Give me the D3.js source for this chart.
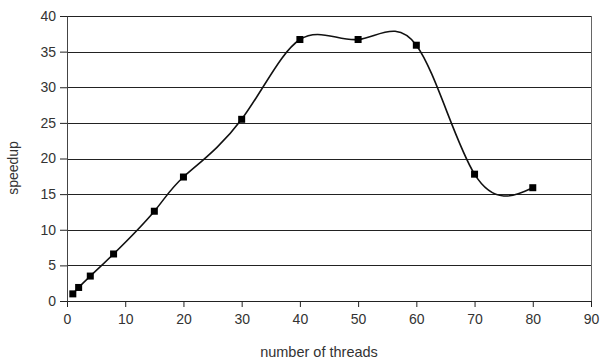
<!DOCTYPE html>
<html>
<head>
<meta charset="utf-8">
<script src="https://cdn.jsdelivr.net/npm/d3@7"></script>
<style>
  body { margin: 0; background: #fff; }
  text { font-family: "Liberation Sans", Arial, sans-serif; fill: #333; }
</style>
</head>
<body>
<div id="chart-container"></div>
<script>
// data
const threads = [1, 2, 4, 8, 15, 20, 30, 40, 50, 60, 70, 80]
const speedup = [1.0, 1.9, 3.5, 6.6, 12.6, 17.4, 25.5, 36.7, 36.7, 35.9, 17.8, 15.9]
const xTicks = [0, 10, 20, 30, 40, 50, 60, 70, 80, 90]
const yTicks = [0, 5, 10, 15, 20, 25, 30, 35, 40]

const margin = { top: 16, right: 9, bottom: 62, left: 67 }
const width = 600 - margin.left - margin.right
const height = 363 - margin.top - margin.bottom

const svg = d3.select("#chart-container")
  .append("svg")
  .attr("width", 600)
  .attr("height", 363)
  .append("g")
  .attr("transform", `translate(${margin.left},${margin.top})`)

const x = d3.scaleLinear().domain([0, 90]).range([0, width])
const y = d3.scaleLinear().domain([0, 40]).range([height, 0])

// horizontal gridlines
svg.append("g")
  .selectAll("line")
  .data(yTicks.filter(d => d > 0))
  .enter().append("line")
  .attr("x1", 0)
  .attr("x2", width)
  .attr("y1", d => Math.round(y(d)) + 0.5)
  .attr("y2", d => Math.round(y(d)) + 0.5)
  .attr("stroke", "#222")

// right border
svg.append("line")
  .attr("x1", width + 0.5).attr("x2", width + 0.5)
  .attr("y1", Math.round(y(40))).attr("y2", height)
  .attr("stroke", "#666")

// axes
const xAxis = svg.append("g")
  .attr("transform", `translate(0,${Math.round(height)})`)
  .call(d3.axisBottom(x).tickValues(xTicks).tickSize(6).tickSizeOuter(0))
xAxis.select(".domain").attr("stroke", "#222")
xAxis.selectAll(".tick line").attr("stroke", "#222")
xAxis.selectAll("text").style("font-size", "14px").attr("y", 9).attr("dy", "1em").attr("fill", "#333")

const yAxis = svg.append("g")
  .call(d3.axisLeft(y).tickValues(yTicks).tickSize(7).tickSizeOuter(0))
yAxis.select(".domain").attr("stroke", "#444")
yAxis.selectAll(".tick line").attr("stroke", "#222")
yAxis.selectAll("text").style("font-size", "14px").attr("x", -11).attr("fill", "#333")

// smoothed line (cubic spline)
const pts = threads.map((t, i) => [t, speedup[i]])
svg.append("path")
  .datum(pts)
  .attr("fill", "none")
  .attr("stroke", "#111")
  .attr("stroke-width", 1.6)
  .attr("d", d3.line().x(d => x(d[0])).y(d => y(d[1])).curve(d3.curveNatural))

// square markers
svg.selectAll(".pt")
  .data(pts)
  .enter().append("rect")
  .attr("class", "pt")
  .attr("x", d => x(d[0]) - 3.5)
  .attr("y", d => y(d[1]) - 3.5)
  .attr("width", 7)
  .attr("height", 7)
  .attr("fill", "#000")

// axis labels
svg.append("text")
  .attr("transform", "rotate(-90)")
  .attr("x", -(168 - margin.top))
  .attr("y", 18 - margin.left)
  .attr("text-anchor", "middle")
  .style("font-size", "14px")
  .text("speedup")

svg.append("text")
  .attr("x", 319 - margin.left)
  .attr("y", 357 - margin.top)
  .attr("text-anchor", "middle")
  .style("font-size", "14.5px")
  .text("number of threads")
</script>
</body>
</html>
